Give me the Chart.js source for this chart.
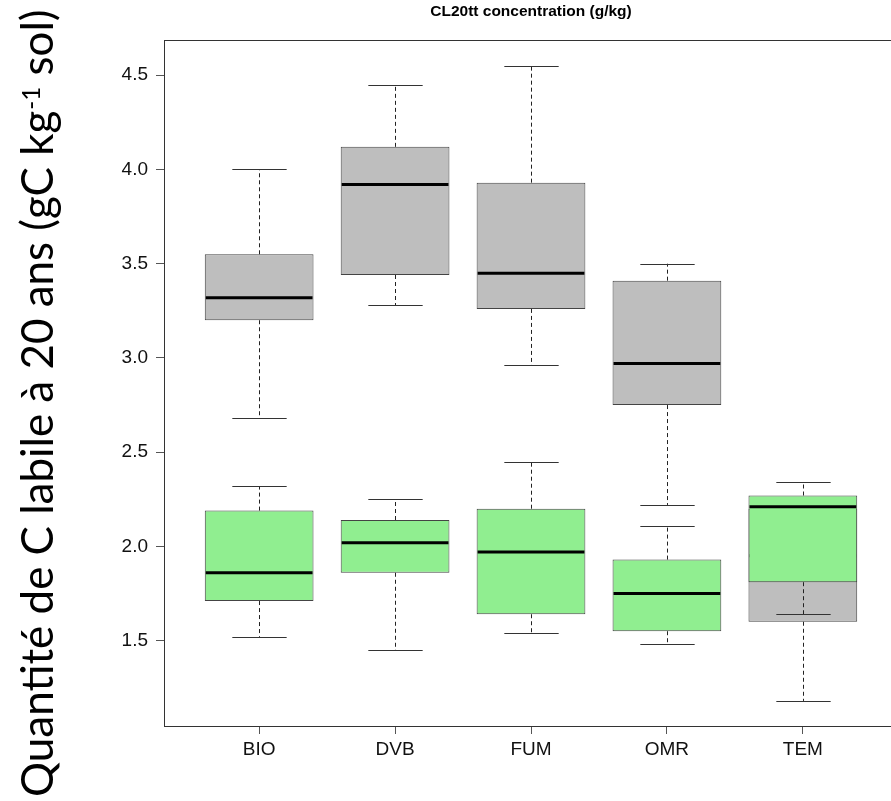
<!DOCTYPE html>
<html>
<head>
<meta charset="utf-8">
<script src="https://cdn.jsdelivr.net/npm/chart.js@4.4.0/dist/chart.umd.min.js"></script>
<style>
  html, body { margin: 0; padding: 0; background: #fff; overflow: hidden; }
</style>
</head>
<body>
<canvas id="boxes" width="900" height="801"></canvas>
<script>
var categories = ["BIO", "DVB", "FUM", "OMR", "TEM"];
var yTicks = [1.5, 2.0, 2.5, 3.0, 3.5, 4.0, 4.5];

// grey boxes
var greyLow    = [2.68, 3.28, 2.96, 2.22, 1.18];
var greyQ1     = [3.20, 3.44, 3.26, 2.75, 1.60];
var greyMedian = [3.32, 3.92, 3.45, 2.97, 1.95];
var greyQ3     = [3.55, 4.12, 3.93, 3.41, 2.20];
var greyHigh   = [4.00, 4.45, 4.55, 3.50, 2.25];

// green boxes
var greenLow    = [1.52, 1.45, 1.54, 1.48, 1.64];
var greenQ1     = [1.71, 1.86, 1.64, 1.55, 1.81];
var greenMedian = [1.86, 2.02, 1.97, 1.75, 2.21];
var greenQ3     = [2.19, 2.14, 2.20, 1.93, 2.27];
var greenHigh   = [2.32, 2.25, 2.45, 2.11, 2.34];

function boxData(q1, q3) {
  return categories.map(function (c, i) { return { x: i + 1, y: [q1[i], q3[i]] }; });
}

// whiskers, caps and medians, drawn right after each box set
var whiskerPlugin = {
  id: "whiskers",
  afterDatasetDraw: function (chart, args) {
    var ds = chart.data.datasets[args.index];
    var bars = chart.getDatasetMeta(args.index).data;
    var xs = chart.scales.x, ys = chart.scales.y, ctx = chart.ctx;
    var capHalf = xs.getPixelForValue(1.2) - xs.getPixelForValue(1);
    ctx.save();
    for (var i = 0; i < categories.length; i++) {
      var bar = bars[i];
      var x = Math.round(bar.x) + 0.5;
      var yLo = ys.getPixelForValue(ds.low[i]), yQ1 = ys.getPixelForValue(ds.q1[i]);
      var yQ3 = ys.getPixelForValue(ds.q3[i]), yHi = ys.getPixelForValue(ds.high[i]);
      var yMed = ys.getPixelForValue(ds.median[i]);

      ctx.strokeStyle = "#222";
      ctx.lineWidth = 1;
      ctx.setLineDash([4, 3]);
      ctx.beginPath();
      ctx.moveTo(x, yQ3); ctx.lineTo(x, yHi);
      ctx.moveTo(x, yQ1); ctx.lineTo(x, yLo);
      ctx.stroke();

      ctx.setLineDash([]);
      ctx.strokeStyle = "#333";
      ctx.beginPath();
      ctx.moveTo(x - capHalf, Math.round(yHi) + 0.5); ctx.lineTo(x + capHalf, Math.round(yHi) + 0.5);
      ctx.moveTo(x - capHalf, Math.round(yLo) + 0.5); ctx.lineTo(x + capHalf, Math.round(yLo) + 0.5);
      ctx.stroke();

      // median stays inside the box outline
      var half = bar.width / 2 - 1;
      ctx.strokeStyle = "#000";
      ctx.lineWidth = 3;
      ctx.beginPath();
      ctx.moveTo(bar.x - half, yMed); ctx.lineTo(bar.x + half, yMed);
      ctx.stroke();
    }
    ctx.restore();
  }
};

// frame, title and the rotated axis label
var framePlugin = {
  id: "frame",
  afterDraw: function (chart) {
    var a = chart.chartArea, ctx = chart.ctx;
    ctx.save();
    ctx.strokeStyle = "#333";
    ctx.lineWidth = 1;
    ctx.strokeRect(Math.round(a.left) + 0.5, Math.round(a.top) + 0.5,
                   Math.round(a.right - a.left), Math.round(a.bottom - a.top));

    ctx.fillStyle = "#000";
    ctx.font = "bold 15.5px 'Liberation Sans', Arial, sans-serif";
    ctx.textAlign = "center";
    ctx.textBaseline = "alphabetic";
    ctx.fillText("CL20tt concentration (g/kg)", (a.left + a.right) / 2, 16);

    var main1 = "Quantité de C labile à 20 ans (gC kg", sup = "-1", main2 = " sol)";
    var size = 40;
    ctx.font = size + "px Lato, 'Open Sans', sans-serif";
    var w1 = ctx.measureText(main1).width, w3 = ctx.measureText(main2).width;
    ctx.font = Math.round(size * 0.55) + "px Lato, 'Open Sans', sans-serif";
    var w2 = ctx.measureText(sup).width;
    // fit the label along the left edge
    var scale = 787 / (w1 + w2 + w3);
    size = size * scale;
    ctx.translate(53, 797);
    ctx.rotate(-Math.PI / 2);
    ctx.textAlign = "left";
    ctx.font = size + "px Lato, 'Open Sans', sans-serif";
    ctx.fillText(main1, 0, 0);
    var pos = ctx.measureText(main1).width;
    ctx.font = (size * 0.55) + "px Lato, 'Open Sans', sans-serif";
    ctx.fillText(sup, pos + 1, -size * 0.3);
    pos += ctx.measureText(sup).width + 1;
    ctx.font = size + "px Lato, 'Open Sans', sans-serif";
    ctx.fillText(main2, pos, 0);
    ctx.restore();
  }
};

var tickFont = { family: "'Liberation Sans', Arial, sans-serif", size: 19 };

new Chart(document.getElementById("boxes"), {
  type: "bar",
  data: {
    datasets: [
      {
        label: "grey",
        data: boxData(greyQ1, greyQ3),
        low: greyLow, q1: greyQ1, median: greyMedian, q3: greyQ3, high: greyHigh,
        backgroundColor: "#bebebe",
        borderColor: "#444",
        borderWidth: 1,
        borderSkipped: false,
        order: 2
      },
      {
        label: "green",
        data: boxData(greenQ1, greenQ3),
        low: greenLow, q1: greenQ1, median: greenMedian, q3: greenQ3, high: greenHigh,
        backgroundColor: "#90ee90",
        borderColor: "#444",
        borderWidth: 1,
        borderSkipped: false,
        order: 1
      }
    ]
  },
  options: {
    responsive: false,
    animation: false,
    categoryPercentage: 1,
    barPercentage: 0.8,
    layout: { padding: { left: 0, top: 40, right: 2, bottom: 0 } },
    plugins: { legend: { display: false }, tooltip: { enabled: false } },
    scales: {
      x: {
        type: "linear",
        stacked: true,
        offset: false,
        min: 0.3,
        max: 5.7,
        afterBuildTicks: function (s) { s.ticks = categories.map(function (c, i) { return { value: i + 1 }; }); },
        afterFit: function (s) { s.height = 75; },
        border: { display: false },
        grid: { offset: false, drawOnChartArea: false, drawTicks: true, tickLength: 8, tickColor: "#555" },
        ticks: {
          color: "#111",
          font: tickFont,
          padding: 4,
          maxRotation: 0,
          autoSkip: false,
          callback: function (v) { return categories[v - 1]; }
        }
      },
      y: {
        min: 1.047,
        max: 4.687,
        afterBuildTicks: function (s) { s.ticks = yTicks.map(function (v) { return { value: v }; }); },
        afterFit: function (s) { s.width = 164; },
        border: { display: false },
        grid: { drawOnChartArea: false, drawTicks: true, tickLength: 8, tickColor: "#555" },
        ticks: {
          color: "#111",
          font: tickFont,
          padding: 8,
          callback: function (v) { return v.toFixed(1); }
        }
      }
    }
  },
  plugins: [whiskerPlugin, framePlugin]
});
</script>
</body>
</html>
